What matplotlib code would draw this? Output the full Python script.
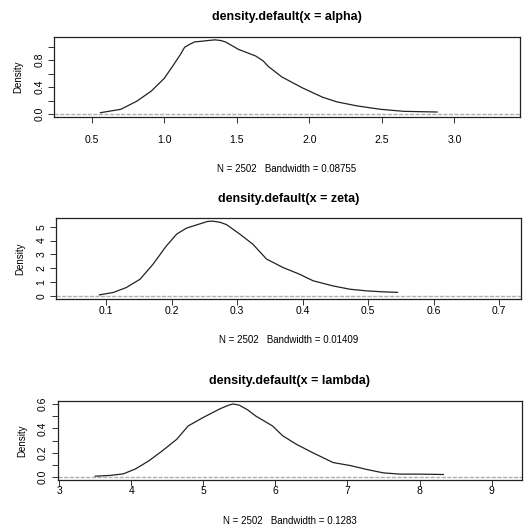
import matplotlib
matplotlib.use('Agg')
import matplotlib.pyplot as plt

plt.rcParams['font.family'] = ['Liberation Sans', 'DejaVu Sans']

# density curves
alpha_x = [0.56, 0.70, 0.81, 0.91, 1.00, 1.07, 1.11, 1.14, 1.18, 1.21, 1.26, 1.30,
           1.35, 1.39, 1.42, 1.47, 1.51, 1.57, 1.63, 1.68, 1.72, 1.81, 1.95, 2.09,
           2.19, 2.33, 2.49, 2.65, 2.88]
alpha_y = [0.02, 0.07, 0.19, 0.34, 0.53, 0.75, 0.88, 0.99, 1.04, 1.07, 1.08, 1.09,
           1.10, 1.09, 1.07, 1.01, 0.96, 0.91, 0.86, 0.79, 0.70, 0.55, 0.39, 0.25,
           0.18, 0.12, 0.07, 0.04, 0.03]

zeta_x = [0.090, 0.111, 0.131, 0.152, 0.172, 0.192, 0.208, 0.223, 0.243, 0.255,
          0.263, 0.274, 0.284, 0.304, 0.324, 0.345, 0.370, 0.395, 0.416, 0.446,
          0.472, 0.497, 0.522, 0.545]
zeta_y = [0.07, 0.24, 0.60, 1.20, 2.30, 3.60, 4.47, 4.90, 5.20, 5.38,
          5.40, 5.32, 5.15, 4.47, 3.74, 2.66, 2.05, 1.57, 1.09, 0.72,
          0.48, 0.36, 0.29, 0.25]

lambda_x = [3.50, 3.70, 3.89, 4.06, 4.25, 4.44, 4.63, 4.79, 5.00, 5.23, 5.35,
            5.41, 5.50, 5.62, 5.73, 5.96, 6.10, 6.29, 6.52, 6.80, 7.04, 7.27,
            7.50, 7.73, 8.00, 8.33]
lambda_y = [0.008, 0.014, 0.027, 0.068, 0.136, 0.22, 0.31, 0.42, 0.49, 0.56, 0.59,
            0.60, 0.59, 0.55, 0.50, 0.42, 0.34, 0.27, 0.20, 0.12, 0.095, 0.063,
            0.035, 0.025, 0.025, 0.022]

titles = ['density.default(x = alpha)', 'density.default(x = zeta)',
          'density.default(x = lambda)']
xlabels = ['N = 2502   Bandwidth = 0.08755', 'N = 2502   Bandwidth = 0.01409',
           'N = 2502   Bandwidth = 0.1283']

panels = [
    dict(x=alpha_x, y=alpha_y, xlim=(0.24, 3.45),
         xticks=[0.5, 1.0, 1.5, 2.0, 2.5, 3.0], xfmt='{:.1f}',
         yticks=[0, 0.2, 0.4, 0.6, 0.8, 1.0], ylabels=['0.0', '', '0.4', '', '0.8', ''],
         rect=[0.103, 0.778, 0.887, 0.152], xpad=9),
    dict(x=zeta_x, y=zeta_y, xlim=(0.024, 0.733),
         xticks=[0.1, 0.2, 0.3, 0.4, 0.5, 0.6, 0.7], xfmt='{:.1f}',
         yticks=[0, 1, 2, 3, 4, 5], ylabels=['0', '1', '2', '3', '4', '5'],
         rect=[0.107, 0.433, 0.885, 0.153], xpad=1),
    dict(x=lambda_x, y=lambda_y, xlim=(2.98, 9.42),
         xticks=[3, 4, 5, 6, 7, 8, 9], xfmt='{:d}',
         yticks=[0, 0.1, 0.2, 0.3, 0.4, 0.5, 0.6],
         ylabels=['0.0', '', '0.2', '', '0.4', '', '0.6'],
         rect=[0.110, 0.089, 0.884, 0.150], xpad=0.5),
]

fig = plt.figure(figsize=(5.25, 5.27), dpi=100)

for p, title, xlabel in zip(panels, titles, xlabels):
    ax = fig.add_axes(p['rect'])
    ymax = max(p['y'])
    ax.axhline(0, color='#b0b0b0', lw=1.0, ls=(0, (3, 1)))
    ax.plot(p['x'], p['y'], color='#222222', lw=0.9)
    ax.set_xlim(*p['xlim'])
    ax.set_ylim(-0.04 * ymax, 1.04 * ymax)
    ax.set_xticks(p['xticks'])
    ax.set_xticklabels([p['xfmt'].format(v) for v in p['xticks']], fontsize=7.5)
    ax.set_yticks(p['yticks'])
    ax.set_yticklabels(p['ylabels'], fontsize=7.5, rotation=90, va='center')
    ax.tick_params(direction='out', length=4, width=0.7, color='#333333')
    ax.tick_params(axis='x', pad=p['xpad'])
    ax.tick_params(axis='y', pad=3)
    for s in ax.spines.values():
        s.set_linewidth(0.9)
        s.set_color('#222222')
    ax.set_title(title, fontsize=9, fontweight='bold', pad=12)
    ax.set_xlabel(xlabel, fontsize=7, labelpad=14)
    ax.set_ylabel('Density', fontsize=7, labelpad=8)

fig.savefig('out.png', dpi=100)
